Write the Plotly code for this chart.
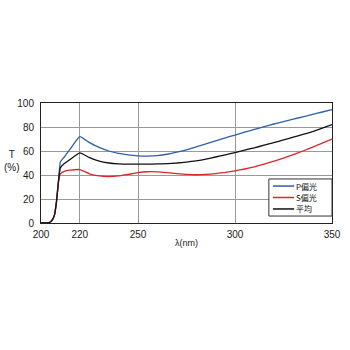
import plotly.graph_objects as go

wl = [200, 202, 204, 205, 206, 207, 208, 209, 210, 212, 215, 220, 225, 230, 235, 240, 245, 250, 255, 260, 265, 270, 275, 280, 285, 290, 295, 300, 305, 310, 315, 320, 325, 330, 335, 340, 345, 350]
p_pol = [0, 0, 0.3, 1, 3, 7, 18, 35, 51, 55, 61.5, 72, 67, 63, 60, 58, 56.7, 56, 55.8, 56.2, 57.3, 59, 61, 63.5, 66, 68.5, 71, 73.3, 75.7, 78, 80.3, 82.5, 84.5, 86.5, 88.5, 90.5, 92.5, 94.5]
s_pol = [0, 0, 0.3, 1, 3, 7, 18, 34, 41, 43, 44, 44.5, 41, 39.2, 38.7, 39.2, 40.5, 42, 42.7, 42.6, 42, 41.2, 40.5, 40.2, 40.5, 41.2, 42.2, 43.5, 45, 46.8, 49, 51.5, 54, 57, 60, 63.2, 66.5, 70]
avg = [0, 0, 0.3, 1, 3, 7, 18, 34.5, 46, 49.5, 53, 58.5, 54.5, 51.5, 50, 49.3, 49, 49, 49, 49.2, 49.5, 50, 50.8, 51.8, 53.2, 55, 56.8, 58.7, 60.7, 62.7, 64.8, 67, 69.2, 71.5, 73.8, 76.2, 79, 82]
names = ["P偏光", "S偏光", "平均"]
colors = ["#2f5fa7", "#d9262b", "#111111"]
xticks = [200, 220, 250, 300, 350]
yticks = [0, 20, 40, 60, 80, 100]

fig = go.Figure()
for name, ys, c in zip(names, [p_pol, s_pol, avg], colors):
    fig.add_trace(go.Scatter(x=wl, y=ys, mode="lines", name=name, showlegend=False,
                             line=dict(color=c, width=1.3, shape="spline", smoothing=0.4)))

# manual compact legend
shapes = [dict(type="rect", xref="paper", yref="paper", x0=0.783, x1=1.0, y0=0.058, y1=0.367,
               line=dict(color="#333", width=1), fillcolor="white", layer="above")]
annos = []
rows = [0.308, 0.2125, 0.117]
for name, c, yy in zip(names, colors, rows):
    shapes.append(dict(type="line", xref="paper", yref="paper", x0=0.797, x1=0.87, y0=yy, y1=yy,
                       line=dict(color=c, width=1.5), layer="above"))
    annos.append(dict(text=name, x=0.872, y=yy, xref="paper", yref="paper", showarrow=False,
                      xanchor="left", yanchor="middle", borderpad=0,
                      font=dict(size=8, family="Noto Sans CJK JP, sans-serif", color="#111")))

fnt = "Liberation Sans, Arial, Noto Sans CJK JP, sans-serif"
annos += [
    dict(text="T<br>(%)", x=-0.1, y=0.52, xref="paper", yref="paper", showarrow=False,
         xanchor="center", yanchor="middle", font=dict(size=10)),
    dict(text="λ(nm)", x=0.5, y=-0.17, xref="paper", yref="paper", showarrow=False,
         font=dict(size=9), yanchor="middle"),
]
fig.update_layout(
    width=350, height=350,
    margin=dict(l=41, r=9, t=103, b=127),
    paper_bgcolor="white", plot_bgcolor="white",
    font=dict(family=fnt, size=10, color="#1a1a1a"),
    xaxis=dict(range=[200, 350], tickvals=xticks, ticks="outside", ticklen=2, tickcolor="white",
               showgrid=True, gridcolor="#999", gridwidth=1, showline=True, linecolor="#222",
               mirror=True, zeroline=False, tickfont=dict(size=10)),
    yaxis=dict(range=[0, 100], tickvals=yticks, ticks="outside", ticklen=4, tickcolor="white",
               showgrid=True, gridcolor="#999", gridwidth=1, showline=True, linecolor="#222",
               mirror=True, zeroline=False, tickfont=dict(size=10)),
    shapes=shapes,
    annotations=annos,
)
fig.write_html("out.html")
